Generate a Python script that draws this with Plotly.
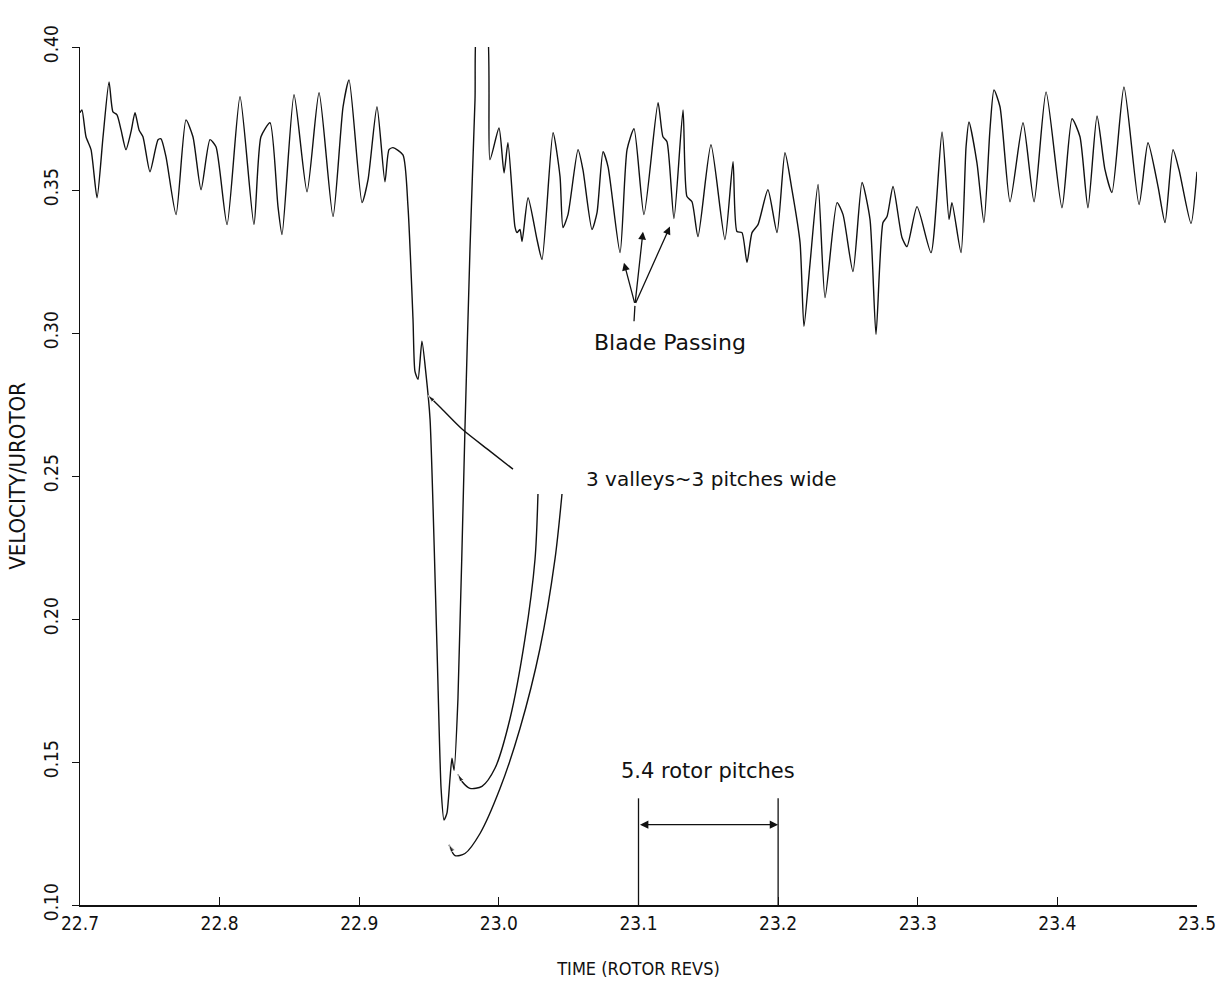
import plotly.graph_objects as go

# Time (rotor revs) and normalized velocity
time_revs = [22.7000, 22.7014, 22.7043, 22.7079, 22.7122, 22.7165, 22.7208, 22.7236, 22.7265, 22.7294,
             22.7329, 22.7365, 22.7394, 22.7423, 22.7451, 22.7501, 22.7559, 22.7580, 22.7616, 22.7688,
             22.7759, 22.7809, 22.7867, 22.7931, 22.7974, 22.8053, 22.8146, 22.8246, 22.8296, 22.8361,
             22.8418, 22.8447, 22.8533, 22.8626, 22.8712, 22.8812, 22.8884, 22.8927, 22.9020, 22.9063,
             22.9127, 22.9184, 22.9213, 22.9242, 22.9313, 22.9349, 22.9385, 22.9399, 22.9421, 22.9449,
             22.9478, 22.9507, 22.9557, 22.9586, 22.9607, 22.9628, 22.9650, 22.9664, 22.9679, 22.9707,
             22.9757, 22.9793, 22.9829, 22.9850, 22.9908, 22.9936, 23.0001, 23.0037, 23.0065, 23.0115,
             23.0130, 23.0151, 23.0166, 23.0209, 23.0273, 23.0309, 23.0388, 23.0438, 23.0459, 23.0495,
             23.0567, 23.0602, 23.0667, 23.0703, 23.0746, 23.0782, 23.0868, 23.0918, 23.0968, 23.1039,
             23.1140, 23.1175, 23.1204, 23.1254, 23.1319, 23.1347, 23.1383, 23.1426, 23.1519, 23.1619,
             23.1677, 23.1705, 23.1741, 23.1777, 23.1813, 23.1856, 23.1927, 23.1992, 23.2049, 23.2099,
             23.2157, 23.2185, 23.2228, 23.2286, 23.2336, 23.2422, 23.2465, 23.2536, 23.2601, 23.2658,
             23.2701, 23.2751, 23.2780, 23.2823, 23.2887, 23.2923, 23.2995, 23.3095, 23.3174, 23.3224,
             23.3245, 23.3310, 23.3346, 23.3367, 23.3424, 23.3474, 23.3517, 23.3546, 23.3589, 23.3661,
             23.3754, 23.3833, 23.3919, 23.4033, 23.4105, 23.4162, 23.4219, 23.4284, 23.4341, 23.4391,
             23.4477, 23.4585, 23.4649, 23.4721, 23.4771, 23.4828, 23.4871, 23.4957, 23.5000]
velocity = [0.3770, 0.3780, 0.3686, 0.3641, 0.3473, 0.3686, 0.3878, 0.3773, 0.3763, 0.3710,
            0.3641, 0.3703, 0.3770, 0.3710, 0.3686, 0.3564, 0.3676, 0.3679, 0.3616, 0.3414,
            0.3745, 0.3686, 0.3501, 0.3676, 0.3651, 0.3379, 0.3826, 0.3379, 0.3686, 0.3735,
            0.3442, 0.3344, 0.3833, 0.3494, 0.3840, 0.3407, 0.3791, 0.3885, 0.3456, 0.3536,
            0.3791, 0.3529, 0.3641, 0.3648, 0.3623, 0.3442, 0.3048, 0.2866, 0.2838, 0.2971,
            0.2856, 0.2699, 0.1897, 0.1408, 0.1297, 0.1321, 0.1443, 0.1513, 0.1471, 0.1722,
            0.2664, 0.3292, 0.3815, 0.4100, 0.4100, 0.3606, 0.3717, 0.3560, 0.3665, 0.3372,
            0.3351, 0.3362, 0.3320, 0.3473, 0.3327, 0.3257, 0.3700, 0.3547, 0.3369, 0.3414,
            0.3641, 0.3571, 0.3362, 0.3421, 0.3634, 0.3581, 0.3281, 0.3641, 0.3714, 0.3414,
            0.3805, 0.3686, 0.3669, 0.3400, 0.3780, 0.3477, 0.3459, 0.3337, 0.3658, 0.3327,
            0.3599, 0.3355, 0.3351, 0.3247, 0.3351, 0.3379, 0.3501, 0.3351, 0.3630, 0.3501,
            0.3316, 0.3023, 0.3240, 0.3519, 0.3124, 0.3456, 0.3414, 0.3215, 0.3526, 0.3397,
            0.2995, 0.3386, 0.3407, 0.3512, 0.3334, 0.3302, 0.3442, 0.3281, 0.3703, 0.3397,
            0.3456, 0.3281, 0.3651, 0.3738, 0.3595, 0.3386, 0.3710, 0.3850, 0.3791, 0.3459,
            0.3735, 0.3459, 0.3843, 0.3438, 0.3749, 0.3686, 0.3438, 0.3759, 0.3571, 0.3491,
            0.3860, 0.3449, 0.3665, 0.3512, 0.3386, 0.3641, 0.3571, 0.3383, 0.3564]

x_ticks = [22.7, 22.8, 22.9, 23.0, 23.1, 23.2, 23.3, 23.4, 23.5]
x_tick_labels = ["22.7", "22.8", "22.9", "23.0", "23.1", "23.2", "23.3", "23.4", "23.5"]
y_ticks = [0.10, 0.15, 0.20, 0.25, 0.30, 0.35, 0.40]
y_tick_labels = ["0.10", "0.15", "0.20", "0.25", "0.30", "0.35", "0.40"]

# Hand-drawn annotation leader curves (data units)
valley_lead_a_x = [23.0101, 22.9936, 22.9736, 22.9578, 22.9492]
valley_lead_a_y = [0.2524, 0.2587, 0.2664, 0.2741, 0.2782]
valley_lead_b_x = [23.0280, 23.0259, 23.0187, 23.0080, 22.9972, 22.9879, 22.9793, 22.9736, 22.9707]
valley_lead_b_y = [0.2437, 0.2210, 0.1931, 0.1652, 0.1478, 0.1415, 0.1408, 0.1432, 0.1457]
valley_lead_c_x = [23.0452, 23.0402, 23.0294, 23.0151, 23.0008, 22.9865, 22.9757, 22.9686, 22.9643]
valley_lead_c_y = [0.2437, 0.2210, 0.1896, 0.1617, 0.1407, 0.1250, 0.1180, 0.1173, 0.1211]

INK = "#111111"
NARROW = "Liberation Sans Narrow, DejaVu Sans Condensed, Arial Narrow, sans-serif"
SANS = "DejaVu Sans, Liberation Sans, Arial, sans-serif"

fig = go.Figure()

fig.add_trace(go.Scatter(
    x=time_revs, y=velocity, mode="lines",
    line=dict(color=INK, width=1.4, shape="spline", smoothing=0.6),
    showlegend=False, hoverinfo="skip"))

for lx, ly in [(valley_lead_a_x, valley_lead_a_y),
               (valley_lead_b_x, valley_lead_b_y),
               (valley_lead_c_x, valley_lead_c_y)]:
    fig.add_trace(go.Scatter(
        x=lx, y=ly, mode="lines+markers",
        line=dict(color=INK, width=1.4, shape="spline", smoothing=0.8),
        marker=dict(symbol="arrow", angleref="previous", color=INK,
                    size=[0] * (len(lx) - 1) + [8]),
        showlegend=False, hoverinfo="skip"))

annotations = []

# Blade passing arrows
apex_x, apex_y = 23.0975, 0.3100
for tip_x, tip_y in [(23.0896, 0.3246), (23.1032, 0.3354), (23.1225, 0.3372)]:
    annotations.append(dict(x=tip_x, y=tip_y, ax=apex_x, ay=apex_y, xref="x", yref="y",
                            axref="x", ayref="y", showarrow=True, arrowhead=2,
                            arrowsize=1.2, arrowwidth=1.3, arrowcolor=INK, text=""))
annotations.append(dict(x=23.0968, y=0.3041, ax=apex_x, ay=apex_y, xref="x", yref="y",
                        axref="x", ayref="y", showarrow=True, arrowhead=0,
                        arrowwidth=1.3, arrowcolor=INK, text=""))

annotations.append(dict(x=23.1225, y=0.2967, xref="x", yref="y", text="Blade Passing",
                        showarrow=False, font=dict(family=SANS, size=22, color=INK)))
annotations.append(dict(x=23.1519, y=0.2489, xref="x", yref="y",
                        text="3 valleys~3 pitches wide",
                        showarrow=False, font=dict(family=SANS, size=20, color=INK)))
annotations.append(dict(x=23.1498, y=0.1470, xref="x", yref="y", text="5.4 rotor pitches",
                        showarrow=False, font=dict(family=SANS, size=21, color=INK)))

# 5.4 rotor pitches double arrow
annotations.append(dict(x=23.2, y=0.1281, ax=23.1, ay=0.1281, xref="x", yref="y",
                        axref="x", ayref="y", showarrow=True, arrowhead=2, startarrowhead=2,
                        arrowside="end+start", arrowsize=1.2, startarrowsize=1.2,
                        arrowwidth=1.4, arrowcolor=INK, text=""))

shapes = []
for bx in [23.1, 23.2]:
    shapes.append(dict(type="line", xref="x", yref="y", x0=bx, x1=bx, y0=0.10, y1=0.1373,
                       line=dict(color=INK, width=1.3)))

fig.update_layout(
    width=1230, height=988,
    paper_bgcolor="white", plot_bgcolor="white",
    margin=dict(l=80, r=33, t=47, b=81),
    showlegend=False,
    annotations=annotations,
    shapes=shapes,
    xaxis=dict(range=[22.7, 23.5], tickvals=x_ticks, ticktext=x_tick_labels,
               showgrid=False, zeroline=False, showline=True, linecolor=INK, linewidth=2,
               ticks="inside", ticklen=8, tickcolor=INK, tickwidth=1,
               tickfont=dict(family=NARROW, size=19, color=INK),
               title=dict(text="TIME (ROTOR REVS)", standoff=30,
                          font=dict(family=NARROW, size=18, color=INK))),
    yaxis=dict(range=[0.10, 0.40], tickvals=y_ticks, ticktext=y_tick_labels,
               showgrid=False, zeroline=False, showline=True, linecolor=INK, linewidth=1.3,
               ticks="outside", ticklen=7, tickcolor=INK, tickwidth=1, tickangle=-90,
               ticklabelstandoff=6,
               tickfont=dict(family=NARROW, size=19, color=INK),
               title=dict(text="VELOCITY/UROTOR", standoff=8,
                          font=dict(family=NARROW, size=22, color=INK))),
)

fig.write_html("out.html")
